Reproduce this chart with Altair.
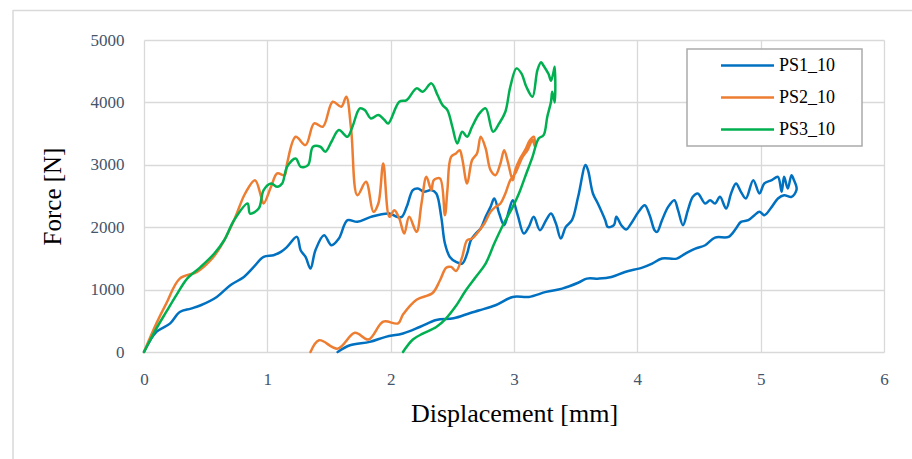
import altair as alt
import pandas as pd

series_names = ["PS1_10", "PS2_10", "PS3_10"]
series_colors = ["#0070C0", "#ED7D31", "#00B050"]
x_ticks = [0, 1, 2, 3, 4, 5, 6]
y_ticks = [0, 1000, 2000, 3000, 4000, 5000]

# PS1_10 : loading branch then return branch
ps1_up_x = [0, 0.10, 0.21, 0.29, 0.38, 0.46, 0.59, 0.70, 0.81, 0.89, 0.97, 1.05, 1.11, 1.16, 1.24, 1.27,
            1.31, 1.35, 1.39, 1.46, 1.52, 1.58, 1.65, 1.73, 1.84, 1.99, 2.05, 2.09, 2.13, 2.18, 2.22, 2.27,
            2.33, 2.37, 2.41, 2.44, 2.48, 2.53, 2.58, 2.62, 2.65, 2.69, 2.73, 2.77, 2.81, 2.84, 2.88, 2.92,
            2.96, 2.99, 3.03, 3.08, 3.12, 3.16, 3.21, 3.26, 3.30, 3.34, 3.38, 3.42, 3.47, 3.52, 3.58, 3.60,
            3.64, 3.68, 3.74, 3.76, 3.81, 3.83, 3.87, 3.91, 3.95, 4.01, 4.06, 4.10, 4.14, 4.16, 4.20, 4.25,
            4.30, 4.33, 4.37, 4.41, 4.45, 4.49, 4.55, 4.59, 4.63, 4.67, 4.72, 4.76, 4.80, 4.84, 4.88, 4.94,
            4.99, 5.03, 5.09, 5.14, 5.17, 5.19, 5.22, 5.25, 5.27, 5.29]
ps1_up_y = [0, 321, 455, 642, 695, 749, 882, 1070, 1203, 1364, 1524, 1551, 1604, 1684, 1845, 1631,
            1524, 1337, 1631, 1872, 1711, 1818, 2112, 2086, 2166, 2219, 2166, 2166, 2326, 2594, 2620, 2567,
            2594, 2540, 2166, 1738, 1524, 1444, 1417, 1578, 1791, 1898, 1979, 2166, 2326, 2460, 2219, 2032,
            2273, 2433, 2193, 1898, 2005, 2166, 1952, 2112, 2219, 2059, 1818, 2005, 2112, 2487, 2995, 2914,
            2540, 2380, 2112, 2005, 2032, 2166, 2032, 1963, 2059, 2246, 2353, 2193, 1952, 1925, 2112, 2326,
            2433, 2273, 2032, 2273, 2487, 2540, 2380, 2433, 2380, 2487, 2299, 2540, 2701, 2567, 2460, 2754,
            2540, 2701, 2754, 2807, 2567, 2807, 2620, 2834, 2754, 2647]
ps1_back_x = [5.29, 5.25, 5.19, 5.14, 5.09, 5.03, 4.99, 4.95, 4.90, 4.84, 4.80, 4.74, 4.63, 4.55, 4.47,
              4.39, 4.32, 4.20, 4.12, 4.04, 3.90, 3.79, 3.69, 3.59, 3.52, 3.39, 3.26, 3.12, 2.99, 2.85,
              2.72, 2.64, 2.51, 2.37, 2.24, 2.10, 1.96, 1.83, 1.67, 1.57]
ps1_back_y = [2594, 2487, 2513, 2460, 2326, 2193, 2246, 2193, 2112, 2086, 1979, 1845, 1834, 1711, 1658,
              1578, 1497, 1497, 1417, 1353, 1283, 1203, 1176, 1176, 1110, 1016, 963, 882, 882, 749,
              668, 622, 540, 514, 405, 297, 243, 162, 108, 0]

# PS2_10
ps2_up_x = [0, 0.10, 0.18, 0.29, 0.43, 0.54, 0.62, 0.73, 0.82, 0.90, 0.95, 0.97, 1.03, 1.08, 1.14, 1.16,
            1.23, 1.31, 1.38, 1.45, 1.53, 1.60, 1.64, 1.68, 1.73, 1.80, 1.86, 1.90, 1.94, 1.99, 2.03, 2.07,
            2.11, 2.15, 2.21, 2.25, 2.29, 2.33, 2.35, 2.40, 2.44, 2.46, 2.49, 2.53, 2.56, 2.58, 2.62, 2.66,
            2.70, 2.73, 2.77, 2.81, 2.85, 2.89, 2.92, 2.95, 2.99, 3.01, 3.05, 3.09, 3.13, 3.16, 3.17]
ps2_up_y = [0, 455, 775, 1176, 1283, 1470, 1684, 2112, 2540, 2754, 2487, 2380, 2647, 2861, 2834, 3021,
            3449, 3316, 3663, 3610, 4010, 3930, 4091, 3556, 2513, 2727, 2246, 2380, 3021, 2166, 2273, 2139,
            1898, 2166, 1925, 2380, 2807, 2594, 2754, 2781, 2193, 2594, 3128, 3182, 3235, 3102, 2700, 3075,
            3182, 3449, 3262, 2914, 2834, 3021, 3235, 3048, 2754, 2914, 3102, 3235, 3396, 3449, 3289]
ps2_back_x = [3.15, 3.11, 3.07, 3.01, 2.97, 2.93, 2.89, 2.85, 2.81, 2.76, 2.72, 2.66, 2.62, 2.58, 2.53,
              2.49, 2.45, 2.40, 2.34, 2.21, 2.10, 2.06, 1.94, 1.82, 1.71, 1.57, 1.42, 1.35]
ps2_back_y = [3396, 3235, 3128, 2861, 2754, 2540, 2380, 2326, 2246, 2059, 1952, 1818, 1791, 1524, 1297,
              1364, 1351, 1150, 946, 838, 600, 459, 486, 200, 308, 54, 189, 0]

# PS3_10
ps3_up_x = [0, 0.10, 0.18, 0.27, 0.35, 0.46, 0.57, 0.65, 0.73, 0.84, 0.86, 0.93, 0.97, 1.03, 1.08, 1.12,
            1.16, 1.23, 1.27, 1.33, 1.37, 1.43, 1.47, 1.52, 1.58, 1.65, 1.69, 1.75, 1.79, 1.84, 1.90, 1.95,
            1.98, 2.07, 2.13, 2.21, 2.26, 2.33, 2.38, 2.42, 2.46, 2.50, 2.54, 2.58, 2.62, 2.66, 2.72, 2.77,
            2.83, 2.88, 2.93, 2.97, 3.02, 3.06, 3.10, 3.15, 3.19, 3.22, 3.24, 3.28, 3.30, 3.32, 3.33]
ps3_up_y = [0, 374, 642, 936, 1176, 1364, 1578, 1791, 2112, 2380, 2219, 2299, 2594, 2700, 2647, 2700,
            2968, 3102, 2968, 2995, 3289, 3289, 3209, 3369, 3556, 3449, 3610, 3904, 3877, 3743, 3797, 3717,
            3663, 4011, 4037, 4225, 4171, 4305, 4118, 3957, 3877, 3610, 3342, 3529, 3449, 3610, 3824, 3904,
            3529, 3663, 3850, 4251, 4545, 4465, 4251, 4091, 4519, 4642, 4588, 4455, 4348, 4481, 4572]
ps3_back_x = [3.33, 3.31, 3.30, 3.27, 3.24, 3.20, 3.15, 3.09, 3.04, 2.99, 2.91, 2.84, 2.77, 2.69, 2.61,
              2.53, 2.45, 2.37, 2.26, 2.18, 2.10]
ps3_back_y = [4000, 4171, 4011, 3770, 3476, 3422, 3128, 2807, 2540, 2326, 2032, 1738, 1417, 1203, 990,
              740, 540, 400, 294, 200, 0]

rows = []
for name, xs, ys in [
    ("PS1_10", ps1_up_x + ps1_back_x, ps1_up_y + ps1_back_y),
    ("PS2_10", ps2_up_x + ps2_back_x, ps2_up_y + ps2_back_y),
    ("PS3_10", ps3_up_x + ps3_back_x, ps3_up_y + ps3_back_y),
]:
    for i, (xv, yv) in enumerate(zip(xs, ys)):
        rows.append({"series": name, "idx": i, "disp": xv, "force": yv})
df = pd.DataFrame(rows)

FONT = "Liberation Serif"
GRID = "#d9d9d9"

lines = alt.Chart(df).mark_line(strokeWidth=2.5, strokeJoin="round", strokeCap="round",
                                interpolate="catmull-rom").encode(
    x=alt.X("disp:Q",
            scale=alt.Scale(domain=[0, 6], nice=False, zero=False),
            axis=alt.Axis(values=x_ticks, format="d", title="Displacement [mm]", labelFlush=False,
                          labelPadding=19, titlePadding=13, titleFontSize=26)),
    y=alt.Y("force:Q",
            scale=alt.Scale(domain=[0, 5000], nice=False),
            axis=alt.Axis(values=y_ticks, format="d", title="Force [N]", labelFlush=False,
                          labelPadding=20, titlePadding=25, titleFontSize=25)),
    color=alt.Color("series:N",
                    scale=alt.Scale(domain=series_names, range=series_colors),
                    legend=alt.Legend(title=None,
                                      orient="none", legendX=543, legendY=9,
                                      symbolType="stroke", symbolSize=2809, symbolStrokeWidth=2.5,
                                      symbolOffset=25, labelOffset=3.5, padding=7.5, rowPadding=14,
                                      clipHeight=18,
                                      labelFont=FONT, labelFontSize=18, labelColor="#000000")),
    order=alt.Order("idx:Q"),
)

# decorative frames: outer figure border (top/left) and the legend box
deco_src = pd.DataFrame({"k": [0]})
frame_top = alt.Chart(deco_src).mark_rule(color=GRID, strokeWidth=1.5).encode(
    x=alt.value(-131), x2=alt.value(768), y=alt.value(-29.5))
frame_left = alt.Chart(deco_src).mark_rule(color=GRID, strokeWidth=1.5).encode(
    x=alt.value(-131), y=alt.value(-30), y2=alt.value(419))
legend_box = alt.Chart(deco_src).mark_rect(fill="#ffffff", stroke="#ababab", strokeWidth=1.5).encode(
    x=alt.value(543), x2=alt.value(718), y=alt.value(9), y2=alt.value(106))

chart = alt.layer(frame_top, frame_left, lines, legend_box).properties(
    width=740, height=312,
    autosize=alt.AutoSizeParams(type="none"),
    padding={"left": 144, "top": 40, "right": 28, "bottom": 107},
    background="#ffffff",
).configure_view(stroke=None).configure_axis(
    grid=True, gridColor=GRID, gridWidth=1.3, domain=False, ticks=False,
    labelFont=FONT, labelFontSize=17, labelColor="#44546A",
    titleFont=FONT, titleFontSize=24, titleFontWeight="normal", titleColor="#000000",
)

chart.save("out.html", embed_options={"renderer": "svg", "actions": False})
